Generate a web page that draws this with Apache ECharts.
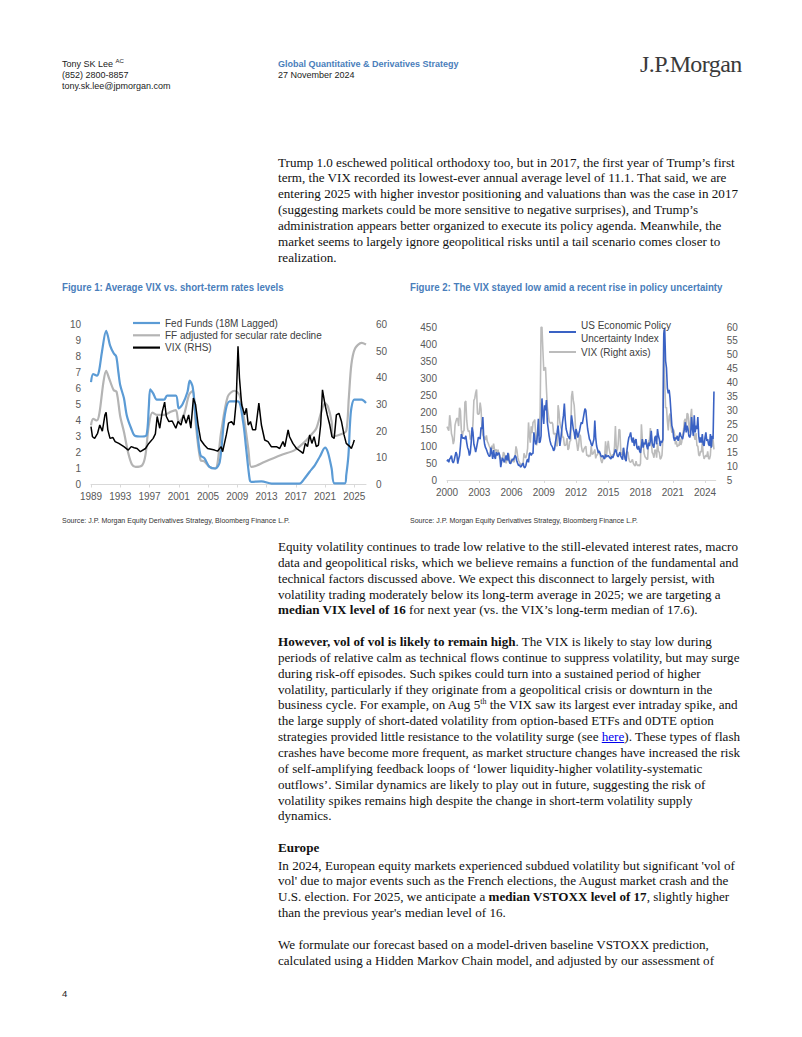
<!DOCTYPE html>
<html><head><meta charset="utf-8">
<script src="https://cdn.jsdelivr.net/npm/echarts@6/dist/echarts.min.js"></script>
<style>
html,body{margin:0;padding:0;background:#fff;}
#page{position:relative;width:802px;height:1037px;overflow:hidden;background:#fff;}
.hd{position:absolute;font-family:"Liberation Sans",Arial,sans-serif;font-size:9px;line-height:10.8px;color:#222;white-space:nowrap;}
.blue{color:#4a7ebb;font-weight:bold;}
.logo{position:absolute;left:640px;top:51px;font-family:"Liberation Serif","Times New Roman",serif;font-size:24px;color:#3a3a3a;letter-spacing:-0.6px;white-space:nowrap;}
.txt{position:absolute;left:278px;font-family:"Liberation Serif","Times New Roman",serif;font-size:13.1px;line-height:15.85px;color:#111;white-space:nowrap;}
.txt sup{font-size:8px;line-height:0;vertical-align:5px;}
.ftitle{position:absolute;top:281px;font-family:"Liberation Sans",Arial,sans-serif;font-weight:bold;font-size:10.5px;color:#4a7ebb;white-space:nowrap;transform:scaleX(0.92);transform-origin:0 0;}
.src{position:absolute;top:516px;font-family:"Liberation Sans",Arial,sans-serif;font-size:8px;color:#333;white-space:nowrap;transform:scaleX(0.88);transform-origin:0 0;}
.chart{position:absolute;}
a{color:#0000ee;text-decoration:underline;}
</style></head>
<body><div id="page">
<div class="hd" style="left:62px;top:59px;">Tony SK Lee <sup style="font-size:6px;line-height:0;">AC</sup><br>(852) 2800-8857<br>tony.sk.lee@jpmorgan.com</div>
<div class="hd" style="left:278px;top:59px;"><span class="blue">Global Quantitative &amp; Derivatives Strategy</span><br>27 November 2024</div>
<div class="logo">J.P.Morgan</div>

<div class="txt" style="top:154.6px;">Trump 1.0 eschewed political orthodoxy too, but in 2017, the first year of Trump’s first<br>term, the VIX recorded its lowest-ever annual average level of 11.1. That said, we are<br>entering 2025 with higher investor positioning and valuations than was the case in 2017<br>(suggesting markets could be more sensitive to negative surprises), and Trump’s<br>administration appears better organized to execute its policy agenda. Meanwhile, the<br>market seems to largely ignore geopolitical risks until a tail scenario comes closer to<br>realization.</div>

<div class="ftitle" style="left:62px;">Figure 1: Average VIX vs. short-term rates levels</div>
<div class="ftitle" style="left:410px;">Figure 2: The VIX stayed low amid a recent rise in policy uncertainty</div>

<div id="c1" class="chart" style="left:55px;top:305px;width:340px;height:205px;"></div>
<div id="c2" class="chart" style="left:405px;top:305px;width:350px;height:205px;"></div>

<div class="src" style="left:62px;">Source: J.P. Morgan Equity Derivatives Strategy, Bloomberg Finance L.P.</div>
<div class="src" style="left:410px;">Source: J.P. Morgan Equity Derivatives Strategy, Bloomberg Finance L.P.</div>

<div class="txt" style="top:539px;">Equity volatility continues to trade low relative to the still-elevated interest rates, macro<br>data and geopolitical risks, which we believe remains a function of the fundamental and<br>technical factors discussed above. We expect this disconnect to largely persist, with<br>volatility trading moderately below its long-term average in 2025; we are targeting a<br><b>median VIX level of 16</b> for next year (vs. the VIX’s long-term median of 17.6).<br><br><b>However, vol of vol is likely to remain high</b>. The VIX is likely to stay low during<br>periods of relative calm as technical flows continue to suppress volatility, but may surge<br>during risk-off episodes. Such spikes could turn into a sustained period of higher<br>volatility, particularly if they originate from a geopolitical crisis or downturn in the<br>business cycle. For example, on Aug 5<sup>th</sup> the VIX saw its largest ever intraday spike, and<br>the large supply of short-dated volatility from option-based ETFs and 0DTE option<br>strategies provided little resistance to the volatility surge (see <a>here</a>). These types of flash<br>crashes have become more frequent, as market structure changes have increased the risk<br>of self-amplifying feedback loops of ‘lower liquidity-higher volatility-systematic<br>outflows’. Similar dynamics are likely to play out in future, suggesting the risk of<br>volatility spikes remains high despite the change in short-term volatility supply<br>dynamics.</div>

<div class="txt" style="top:840px;"><b>Europe</b></div>
<div class="txt" style="top:857.6px;">In 2024, European equity markets experienced subdued volatility but significant 'vol of<br>vol' due to major events such as the French elections, the August market crash and the<br>U.S. election. For 2025, we anticipate a <b>median VSTOXX level of 17</b>, slightly higher<br>than the previous year's median level of 16.<br><br>We formulate our forecast based on a model-driven baseline VSTOXX prediction,<br>calculated using a Hidden Markov Chain model, and adjusted by our assessment of</div>

<div class="hd" style="left:62px;top:989px;font-size:9.5px;">4</div>
</div>
<script>
// ---------- Figure 1 data: [year, value] ----------
const fig1StartYear = 1989;
const fig1XTicks = ['1989','1993','1997','2001','2005','2009','2013','2017','2021','2025'];
const fedFunds = [[1989.0,6.4],[1989.3,6.9],[1989.8,6.8],[1990.1,7.1],[1990.5,8.3],[1991.07,9.6],[1991.3,9.3],[1991.6,8.7],[1992.1,8.2],[1992.45,8.0],[1992.75,7.0],[1993.0,6.2],[1993.5,5.4],[1993.9,4.3],[1994.5,3.5],[1995.0,3.05],[1996.0,3.0],[1996.6,3.1],[1996.9,4.8],[1997.1,5.95],[1997.5,5.7],[1998.0,5.3],[1999.0,5.3],[1999.4,5.55],[2000.6,5.55],[2001.0,4.75],[2001.5,5.0],[2002.2,5.8],[2002.5,6.5],[2002.9,6.1],[2003.3,4.3],[2003.7,2.6],[2004.0,1.8],[2004.5,1.65],[2005.2,1.1],[2006.0,1.0],[2006.6,1.4],[2007.3,4.35],[2007.95,5.2],[2009.1,5.2],[2009.8,3.9],[2010.2,2.3],[2010.7,0.3],[2010.9,0.17],[2012.3,0.2],[2013.7,0.06],[2015.0,0.05],[2017.5,0.06],[2018.2,0.38],[2018.9,0.8],[2019.6,1.2],[2020.3,1.75],[2021.0,2.3],[2021.4,2.0],[2021.9,1.0],[2022.3,0.07],[2023.7,0.07],[2023.9,0.58],[2024.2,1.84],[2024.4,3.7],[2024.6,4.77],[2025.0,5.3],[2026.0,5.3],[2026.6,5.1]];
const ffAdjusted = [[1989.0,3.7],[1989.3,4.1],[1989.8,4.0],[1990.15,4.45],[1990.7,6.4],[1991.07,7.1],[1991.5,6.6],[1992.1,5.9],[1992.5,5.8],[1993.0,4.25],[1993.5,3.3],[1994.1,1.95],[1994.6,1.25],[1995.1,1.1],[1996.0,1.2],[1996.45,1.85],[1996.9,3.7],[1997.4,4.5],[1998.0,4.35],[1999.0,4.35],[1999.9,4.55],[2000.6,4.65],[2001.0,3.9],[2001.7,4.35],[2002.4,5.6],[2002.9,5.85],[2003.3,3.9],[2004.0,1.5],[2004.5,1.45],[2005.2,1.1],[2006.0,1.0],[2006.8,3.3],[2007.7,5.5],[2008.6,5.86],[2009.3,5.6],[2010.0,3.9],[2010.5,2.26],[2010.9,1.1],[2011.6,1.17],[2012.7,1.4],[2015.0,1.84],[2016.85,2.15],[2018.0,2.57],[2019.1,3.1],[2019.8,3.5],[2020.5,4.56],[2021.0,5.08],[2021.4,4.87],[2021.9,3.93],[2022.1,3.0],[2023.25,3.15],[2023.9,3.35],[2024.25,5.4],[2024.6,7.5],[2025.1,8.5],[2026.0,8.85],[2026.6,8.75]];
const vixAvg = [[1989.0,21.7],[1989.2,17.9],[1989.5,17.3],[1989.9,19.2],[1990.2,22.3],[1990.55,20],[1990.9,26],[1991.07,27.1],[1991.3,20.5],[1991.6,17.3],[1992.0,17.6],[1992.3,16.1],[1992.8,15.4],[1993.5,14.2],[1994.1,12.9],[1994.5,14.2],[1994.9,13.8],[1995.3,13.5],[1995.75,12.3],[1996.45,13.5],[1996.9,15.4],[1997.5,17.3],[1997.8,19],[1998.05,25.5],[1998.4,21.1],[1998.75,27.4],[1999.07,30.9],[1999.3,25.5],[1999.65,23.6],[2000.1,23.8],[2000.6,21.1],[2000.9,23.6],[2001.3,22.3],[2001.65,26.1],[2002.0,23],[2002.35,26.1],[2002.65,21.1],[2003.0,32.4],[2003.3,29.9],[2003.65,22.3],[2004.0,16.7],[2004.5,14.8],[2004.95,13.5],[2005.9,12.9],[2006.3,12.5],[2006.8,14.2],[2007.0,12.3],[2007.5,18.6],[2007.8,23],[2008.2,23.6],[2008.55,22.3],[2008.85,31.1],[2009.1,51.8],[2009.3,39.9],[2009.6,29.9],[2010.0,26.1],[2010.25,28.6],[2010.5,22.3],[2010.8,23.6],[2011.1,20.5],[2011.5,20.5],[2011.95,30.5],[2012.3,22.3],[2012.75,16.7],[2013.2,16.1],[2013.65,14.2],[2014.35,14.2],[2014.8,13.5],[2015.25,16.1],[2015.5,14.2],[2015.95,20.5],[2016.15,17.9],[2016.6,15.4],[2017.1,13.5],[2017.7,12.3],[2018.0,11.7],[2018.3,15.4],[2018.6,14.2],[2018.9,18.6],[2019.2,15.4],[2019.5,17.9],[2019.8,14.2],[2020.1,14.8],[2020.4,22.3],[2020.65,35.5],[2021.0,29.9],[2021.3,26.1],[2021.65,22.3],[2021.95,17.9],[2022.25,17.3],[2022.55,26.1],[2022.9,26.7],[2023.25,23.6],[2023.6,18.6],[2023.9,15.4],[2024.4,14.2],[2024.6,13.5],[2024.85,15.4],[2025.0,16.7]];

// ---------- Figure 2 data: monthly, Jan 2000 .. Nov 2024 ----------
const fig2StartYear = 2000;
const epuMonthly = [
55,60,52,62,65,72,55,50,58,70,82,75,
48,62,72,100,135,125,122,125,120,130,110,95,
88,72,80,110,155,140,105,95,82,95,110,125,
125,120,155,150,185,125,105,95,90,82,75,70,
70,95,80,62,88,70,62,82,72,78,80,70,
38,55,65,58,52,62,72,58,80,60,50,48,
56,62,58,65,72,68,55,48,42,45,38,40,
45,50,38,36,42,55,62,52,78,80,72,78,
78,140,120,105,110,135,180,110,112,130,240,200,
165,220,205,235,170,150,130,115,105,100,95,86,
90,110,125,140,160,130,100,120,145,170,190,225,
178,150,140,130,125,120,150,190,170,150,140,120,
150,140,125,135,145,160,170,165,180,195,210,205,
175,150,135,120,115,105,100,110,120,175,125,100,
90,80,85,78,70,68,72,65,62,75,68,70,
72,68,65,62,70,65,72,80,90,85,72,68,
75,82,70,65,60,95,75,62,55,90,110,125,
130,140,120,110,125,100,115,120,95,90,100,85,
80,100,120,95,110,105,120,100,90,110,100,115,
145,110,100,95,125,130,105,150,130,120,100,115,
110,120,430,447,350,330,270,255,265,240,200,160,
150,125,115,125,120,130,115,125,140,130,125,120,
135,150,170,140,160,150,130,125,135,185,150,130,
190,140,160,150,185,130,110,125,110,135,105,100,
125,140,115,120,105,100,135,95,130,120,260];
const vixMonthly = [
24.2,23.4,22.7,28.3,25.8,21.6,20.4,17.9,19.3,24.8,26.1,27.2,
27.0,24.4,31.0,29.9,23.1,20.7,22.4,22.8,32.9,33.4,26.5,23.4,
22.3,22.8,19.5,20.8,20.9,25.5,33.6,34.3,36.4,37.5,29.0,28.5,
29.0,32.8,30.5,23.6,21.2,20.6,20.3,19.4,21.0,18.9,18.2,17.3,
16.5,15.4,17.4,16.0,18.1,16.0,15.3,16.0,14.0,15.9,14.1,12.5,
13.1,11.8,12.9,15.0,14.4,11.9,11.0,12.6,11.9,14.5,12.0,11.5,
12.2,11.7,11.7,11.4,13.5,17.1,15.7,13.1,12.0,11.2,10.6,10.8,
10.6,11.1,14.6,13.2,13.0,14.2,16.4,25.7,21.0,18.4,24.3,21.8,
25.7,26.0,26.7,21.4,17.4,21.2,24.9,20.9,30.0,59.9,60.0,52.0,
44.3,45.3,45.4,37.8,31.3,28.7,26.1,25.6,25.4,25.8,25.2,21.6,
21.5,21.9,17.5,17.1,31.9,29.6,25.6,24.0,23.0,20.4,20.4,17.6,
17.4,17.8,20.1,15.8,16.4,18.8,19.2,35.0,37.0,33.6,31.8,26.7,
20.1,18.0,15.5,17.4,21.3,20.8,17.2,15.4,15.0,16.2,16.7,17.2,
13.7,14.1,13.3,14.0,13.5,17.2,14.2,14.4,15.1,16.0,12.8,14.0,
14.0,15.8,14.7,14.1,12.0,11.1,12.4,13.5,13.3,18.9,13.4,16.7,
19.1,16.1,14.6,13.4,13.4,14.2,13.8,17.0,24.4,16.4,15.4,17.6,
23.2,22.9,15.2,14.0,14.6,16.5,13.2,12.3,14.6,15.3,14.9,12.6,
11.6,11.4,11.7,12.4,11.0,10.4,10.0,11.8,10.5,10.1,10.5,10.0,
10.9,25.0,19.8,18.3,14.6,13.4,13.0,12.5,12.5,19.0,19.4,23.7,
19.6,14.9,14.3,13.0,15.8,15.6,13.0,18.4,15.4,14.9,12.5,12.9,
14.0,19.6,59.0,41.5,30.9,31.1,26.2,22.8,27.9,28.9,24.4,22.0,
23.0,23.0,21.6,17.8,19.0,16.9,17.6,17.3,19.9,17.6,18.6,21.0,
22.8,26.3,27.0,24.4,29.0,28.6,24.7,22.0,27.8,30.6,23.6,22.5,
20.6,19.5,21.9,17.4,17.2,14.0,13.7,15.4,15.0,18.7,14.3,12.6,
13.4,13.9,13.3,15.3,12.8,12.5,13.9,19.4,17.0,19.5,16.0];

const FONT = '"Liberation Sans", Arial, sans-serif';
const axisLbl = {fontSize:10, color:'#595959', fontFamily:FONT};

// ---------- Figure 1 ----------
const toOff1 = arr => arr.map(p => [p[0] - fig1StartYear, p[1]]);
const c1 = echarts.init(document.getElementById('c1'), null, {renderer:'svg'});
c1.setOption({
  animation:false,
  grid:{left:36, top:19.5, width:275, height:160},
  legend:{
    orient:'vertical', left:78, top:13, padding:0, icon:'rect', itemWidth:27, itemHeight:2.2, itemGap:2.3,
    textStyle:{fontSize:10, color:'#404040', fontFamily:FONT},
    data:['Fed Funds (18M Lagged)','FF adjusted for secular rate decline','VIX (RHS)']
  },
  xAxis:{type:'value', min:0, max:37.6, interval:4,
    axisLine:{show:true, lineStyle:{color:'#d9d9d9'}},
    axisTick:{show:true, length:3, lineStyle:{color:'#d9d9d9'}},
    splitLine:{show:false},
    axisLabel:Object.assign({margin:7, showMaxLabel:false, formatter:v => fig1XTicks[Math.round(v/4)] || ''}, axisLbl)},
  yAxis:[
    {type:'value', min:0, max:10, interval:1, axisLine:{show:false}, axisTick:{show:false}, splitLine:{show:false}, axisLabel:Object.assign({margin:10}, axisLbl)},
    {type:'value', min:0, max:60, interval:10, position:'right', axisLine:{show:false}, axisTick:{show:false}, splitLine:{show:false}, axisLabel:Object.assign({margin:10}, axisLbl)}
  ],
  series:[
    {name:'FF adjusted for secular rate decline', type:'line', yAxisIndex:0, symbol:'none', smooth:0.3, data:toOff1(ffAdjusted), lineStyle:{color:'#b4b4b4', width:2.2}, itemStyle:{color:'#b4b4b4'}},
    {name:'Fed Funds (18M Lagged)', type:'line', yAxisIndex:0, symbol:'none', smooth:0.3, data:toOff1(fedFunds), lineStyle:{color:'#5b9bd5', width:2.2}, itemStyle:{color:'#5b9bd5'}},
    {name:'VIX (RHS)', type:'line', yAxisIndex:1, symbol:'none', data:toOff1(vixAvg), lineStyle:{color:'#000000', width:1.5}, itemStyle:{color:'#000000'}}
  ]
});

// ---------- Figure 2 ----------
const toOff2 = arr => arr.map((v,i) => [i/12, v]);
const fig2XTicks = ['2000','2003','2006','2009','2012','2015','2018','2021','2024'];
const c2 = echarts.init(document.getElementById('c2'), null, {renderer:'svg'});
c2.setOption({
  animation:false,
  grid:{left:42, top:22, width:268.75, height:153},
  legend:{
    orient:'vertical', left:144, top:7.5, padding:0, icon:'rect', itemWidth:27, itemHeight:2, itemGap:-6,
    textStyle:{fontSize:10, color:'#404040', fontFamily:FONT, lineHeight:13},
    data:[
      {name:'US Economic Policy\nUncertainty Index', textStyle:{padding:[13,0,0,0]}},
      {name:'VIX (Right axis)'}
    ]
  },
  xAxis:{type:'value', min:0, max:25, interval:3,
    axisLine:{show:true, lineStyle:{color:'#d9d9d9'}},
    axisTick:{show:true, length:3, lineStyle:{color:'#d9d9d9'}},
    splitLine:{show:false},
    axisLabel:Object.assign({margin:7, showMaxLabel:false, formatter:v => fig2XTicks[Math.round(v/3)] || ''}, axisLbl)},
  yAxis:[
    {type:'value', min:0, max:450, interval:50, axisLine:{show:false}, axisTick:{show:false}, splitLine:{show:false}, axisLabel:Object.assign({margin:10}, axisLbl)},
    {type:'value', min:5, max:60, interval:5, position:'right', axisLine:{show:false}, axisTick:{show:false}, splitLine:{show:false}, axisLabel:Object.assign({margin:11}, axisLbl)}
  ],
  series:[
    {name:'VIX (Right axis)', type:'line', yAxisIndex:1, symbol:'none', data:toOff2(vixMonthly), lineStyle:{color:'#bcbcbc', width:1.6}, itemStyle:{color:'#bcbcbc'}},
    {name:'US Economic Policy\nUncertainty Index', type:'line', yAxisIndex:0, symbol:'none', data:toOff2(epuMonthly), lineStyle:{color:'#3a62c4', width:1.6}, itemStyle:{color:'#3a62c4'}}
  ]
});
</script>
</body></html>
